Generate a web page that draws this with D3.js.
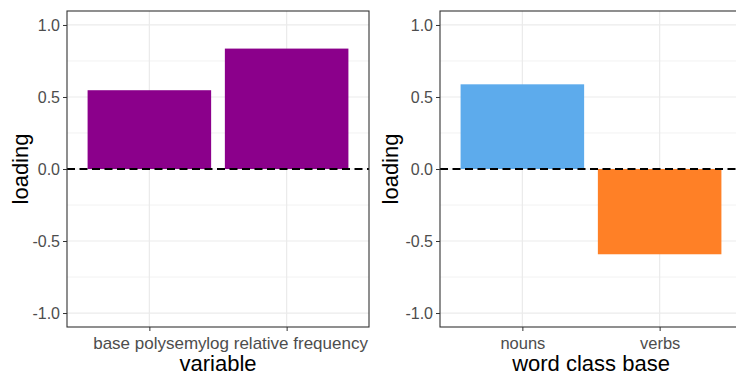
<!DOCTYPE html>
<html>
<head>
<meta charset="utf-8">
<script src="https://cdn.jsdelivr.net/npm/d3@7"></script>
<style>
  body { margin: 0; background: #fff; overflow: hidden; }
  text { font-family: "Liberation Sans", Arial, sans-serif; }
</style>
</head>
<body>
<div id="chart"></div>
<script>
// data
var leftCategories = ["base polysemy", "log relative frequency"];
var leftValues = [0.547, 0.836];
var leftColors = ["#8b008b", "#8b008b"];

var rightCategories = ["nouns", "verbs"];
var rightValues = [0.588, -0.592];
var rightColors = ["#5dabec", "#ff8026"];

var yTicks = [-1.0, -0.5, 0.0, 0.5, 1.0];
var yMinor = [-0.75, -0.25, 0.25, 0.75];

var svgWidth = 736, svgHeight = 371;
var svg = d3.select("#chart").append("svg")
    .attr("width", svgWidth).attr("height", svgHeight);

function drawPanel(opts) {
    var x0 = opts.left, x1 = opts.right, y0 = 11, y1 = 327;

    var yScale = d3.scaleLinear().domain([-1.097, 1.097]).range([y1, y0]);

    // ggplot-style discrete expansion (0.6 units each side)
    var n = opts.categories.length;
    var unit = (x1 - x0) / (n - 1 + 1.2);
    var xScale = d3.scalePoint()
        .domain(opts.categories)
        .range([x0 + 0.6 * unit, x1 - 0.6 * unit]);
    var barW = 0.9 * unit;

    var g = svg.append("g");

    // grid
    g.selectAll(".minor").data(yMinor).enter().append("line")
        .attr("x1", x0).attr("x2", x1)
        .attr("y1", d => yScale(d)).attr("y2", d => yScale(d))
        .attr("stroke", "#f2f2f2").attr("stroke-width", 1);
    g.selectAll(".major").data(yTicks).enter().append("line")
        .attr("x1", x0).attr("x2", x1)
        .attr("y1", d => yScale(d)).attr("y2", d => yScale(d))
        .attr("stroke", "#ebebeb").attr("stroke-width", 1.2);
    g.selectAll(".vmajor").data(opts.categories).enter().append("line")
        .attr("x1", d => xScale(d)).attr("x2", d => xScale(d))
        .attr("y1", y0).attr("y2", y1)
        .attr("stroke", "#ebebeb").attr("stroke-width", 1.2);

    // bars
    g.selectAll(".bar").data(opts.values).enter().append("rect")
        .attr("x", (d, i) => xScale(opts.categories[i]) - barW / 2)
        .attr("width", barW)
        .attr("y", d => yScale(Math.max(0, d)))
        .attr("height", d => Math.abs(yScale(d) - yScale(0)))
        .attr("fill", (d, i) => opts.colors[i]);

    // zero line
    g.append("line")
        .attr("x1", x0).attr("x2", x1)
        .attr("y1", yScale(0)).attr("y2", yScale(0))
        .attr("stroke", "#000").attr("stroke-width", 1.9)
        .attr("stroke-dasharray", "8,4.5");

    // border
    g.append("rect")
        .attr("x", x0).attr("y", y0)
        .attr("width", x1 - x0).attr("height", y1 - y0)
        .attr("fill", "none").attr("stroke", "#333").attr("stroke-width", 1.1);

    // y axis
    var yAxis = d3.axisLeft(yScale).tickValues(yTicks)
        .tickFormat(d3.format(".1f")).tickSize(4).tickPadding(3);
    var ya = g.append("g").attr("transform", `translate(${x0},0)`).call(yAxis);
    ya.select(".domain").remove();
    ya.selectAll("line").attr("stroke", "#333");
    ya.selectAll("text").attr("fill", "#4d4d4d").attr("font-size", "16px")
        .text(d => d3.format(".1f")(d).replace("−", "-"));

    // x axis
    var xAxis = d3.axisBottom(xScale).tickSize(4).tickPadding(6);
    var xa = g.append("g").attr("transform", `translate(0,${y1})`).call(xAxis);
    xa.select(".domain").remove();
    xa.selectAll("line").attr("stroke", "#333");
    xa.selectAll("text").attr("fill", "#4d4d4d").attr("font-size", opts.xFont);

    // titles
    g.append("text")
        .attr("x", (x0 + Math.min(x1, 736)) / 2 + opts.titleShift).attr("y", 371)
        .attr("text-anchor", "middle").attr("font-size", "22px")
        .attr("fill", "#000").text(opts.xTitle);
    g.append("text")
        .attr("transform", `translate(${opts.yTitleX},${(y0 + y1) / 2}) rotate(-90)`)
        .attr("text-anchor", "middle").attr("font-size", "22px")
        .attr("fill", "#000").text("loading");
}

drawPanel({
    left: 67, right: 369,
    categories: leftCategories, values: leftValues, colors: leftColors,
    xTitle: "variable", yTitleX: 28, xFont: "17px", titleShift: 0
});
drawPanel({
    left: 440, right: 742,
    categories: rightCategories, values: rightValues, colors: rightColors,
    xTitle: "word class base", yTitleX: 398, xFont: "16.5px", titleShift: 3
});
</script>
</body>
</html>
